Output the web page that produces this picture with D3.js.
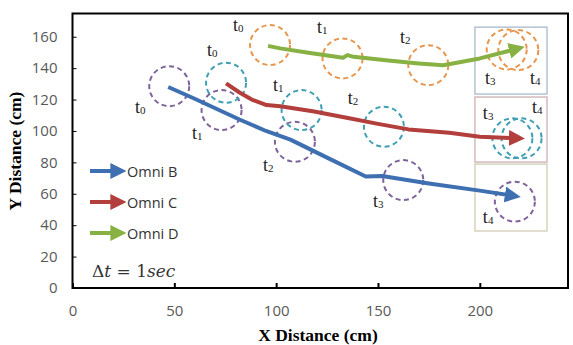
<!DOCTYPE html>
<html>
<head>
<meta charset="utf-8">
<script src="https://cdn.jsdelivr.net/npm/d3@7"></script>
<style>
  body { margin: 0; background: #fff; }
  svg { display: block; }
  .tick text { font-family: "Open Sans", "Liberation Sans", sans-serif; font-size: 15px; fill: #595959; }
</style>
</head>
<body>
<svg id="chart" width="573" height="345"></svg>
<script>
// axis ticks
const xTicks = [0, 50, 100, 150, 200];
const yTicks = [0, 20, 40, 60, 80, 100, 120, 140, 160];

// paths (x cm, y cm)
const omniB = [[47, 128], [60, 120.5], [82, 107.3], [95, 100], [107, 94.5], [125, 83], [144, 71], [152, 71.3], [175, 66.5], [200, 62], [217, 58.6]];
const omniC = [[75.4, 130.3], [82, 124.5], [88, 120], [95.3, 116.5], [102, 115.8], [118, 112.5], [134.6, 108.4], [150, 104.5], [165, 101], [185, 98.8], [200, 96.3], [219, 95.3]];
const omniD = [[96, 154.2], [102, 152.6], [115, 150], [132.8, 146.6], [135, 148.3], [138, 147.2], [155, 144.8], [170, 143], [182, 141.9], [200, 146.2], [219, 152.6]];

// dashed circle centres for t0..t4
const circB = [[47.5, 128.5], [73.2, 113.3], [109.2, 93.1], [162.4, 68.7], [217.2, 55]];
const circC = [[75.4, 130.7], [112.5, 113.3], [152.9, 102.7], [216, 95.3], [220.5, 95.3]];
const circD = [[97, 154.7], [132.6, 146.2], [174.7, 141.9], [213.2, 151.9], [218.9, 151.5]];

// t labels [x, y, index]
const labB = [[30.7, 111.4, 0], [58.7, 94.8, 1], [93.5, 74.5, 2], [147.5, 51.6, 3], [201.5, 41.4, 4]];
const labC = [[66, 147.7, 0], [98.4, 125.4, 1], [135.2, 117.1, 2], [201.5, 107.6, 3], [225.6, 111.4, 4]];
const labD = [[78.8, 163.6, 0], [120, 162.3, 1], [160.8, 156, 2], [202.5, 129.9, 3], [224.6, 129.9, 4]];

// boxes round the t3/t4 area [x0, y0, x1, y1]
const boxes = [
    {box: [197.6, 123.5, 233, 166.1], stroke: "#b3c3d3"},
    {box: [197.6, 80.2, 233, 121.6], stroke: "#d3b9bc"},
    {box: [197.6, 36.3, 233, 78.9], stroke: "#d6d3bd"}
];

const seriesNames = ["Omni B", "Omni C", "Omni D"];

const margins = {top: 13.5, right: 5, bottom: 57, left: 72.5};

function drawCircles(chart, data, x, y, color){
    chart.append("g").selectAll("circle").data(data).enter().append("circle")
        .attr("cx", d => x(d[0]))
        .attr("cy", d => y(d[1]))
        .attr("r", 20)
        .attr("fill", "none")
        .attr("stroke", color)
        .attr("stroke-width", 2)
        .attr("stroke-dasharray", "5,3.5");
}

function drawLabels(chart, data, x, y){
    let t = chart.append("g").selectAll("text").data(data).enter().append("text")
        .attr("x", d => x(d[0]))
        .attr("y", d => y(d[1]))
        .style("font-family", "'Liberation Serif', serif")
        .style("font-size", "18px")
        .style("fill", "#222")
        .text("t");
    t.append("tspan")
        .attr("dy", 1)
        .style("font-size", "11px")
        .text(d => d[2]);
}

function drawPath(chart, data, x, y, color, marker){
    chart.append("path")
        .datum(data)
        .attr("d", d3.line().x(d => x(d[0])).y(d => y(d[1])))
        .attr("fill", "none")
        .attr("stroke", color)
        .attr("stroke-width", 4)
        .attr("stroke-linejoin", "round")
        .attr("marker-end", `url(#${marker})`);
}

function makeChart(){
    let svg = d3.select("#chart");
    let width = 573, height = 345;
    let innerW = width - margins.left - margins.right;
    let innerH = height - margins.top - margins.bottom;

    let x = d3.scaleLinear([0, 243.3], [margins.left, margins.left + innerW]);
    let y = d3.scaleLinear([0, 174.8], [margins.top + innerH, margins.top]);

    let colors = ["#3e6fb0", "#b23f3c", "#88b144"];
    let circColors = ["#7d6399", "#3f9fb3", "#e7954c"];

    let defs = svg.append("defs");
    colors.forEach((c, i) => {
        defs.append("marker")
            .attr("id", "arr" + i)
            .attr("viewBox", "0 0 10 10")
            .attr("refX", 6).attr("refY", 5)
            .attr("markerWidth", 4).attr("markerHeight", 4)
            .attr("markerUnits", "strokeWidth")
            .attr("orient", "auto")
            .append("path")
            .attr("d", "M0,0 L10,5 L0,10 Z")
            .attr("fill", c);
    });

    // boxes
    svg.append("g").selectAll("rect").data(boxes).enter().append("rect")
        .attr("x", d => x(d.box[0]))
        .attr("y", d => y(d.box[3]))
        .attr("width", d => x(d.box[2]) - x(d.box[0]))
        .attr("height", d => y(d.box[1]) - y(d.box[3]))
        .attr("fill", "none")
        .attr("stroke", d => d.stroke)
        .attr("stroke-width", 1.5);

    // axes
    svg.append("g")
        .attr("transform", `translate(0,${margins.top + innerH})`)
        .call(d3.axisBottom(x).tickValues(xTicks).tickSizeInner(-5).tickSizeOuter(0).tickPadding(17))
        .call(g => g.select(".domain").remove())
        .call(g => g.selectAll("line").attr("stroke", "#000").attr("stroke-width", 2));

    svg.append("g")
        .attr("transform", `translate(${margins.left},0)`)
        .call(d3.axisLeft(y).tickValues(yTicks).tickSizeInner(-4).tickSizeOuter(0).tickPadding(15))
        .call(g => g.select(".domain").remove())
        .call(g => g.selectAll("line").attr("stroke", "#000"));

    // frame
    svg.append("rect")
        .attr("x", margins.left)
        .attr("y", margins.top)
        .attr("width", innerW)
        .attr("height", innerH)
        .attr("fill", "none")
        .attr("stroke", "#000")
        .attr("stroke-width", 2);

    drawCircles(svg, circB, x, y, circColors[0]);
    drawCircles(svg, circC, x, y, circColors[1]);
    drawCircles(svg, circD, x, y, circColors[2]);

    drawPath(svg, omniB, x, y, colors[0], "arr0");
    drawPath(svg, omniC, x, y, colors[1], "arr1");
    drawPath(svg, omniD, x, y, colors[2], "arr2");

    drawLabels(svg, labB, x, y);
    drawLabels(svg, labC, x, y);
    drawLabels(svg, labD, x, y);

    // legend
    let leg = svg.append("g").selectAll("g").data(seriesNames).enter().append("g")
        .attr("transform", (d, i) => `translate(90,${171 + i * 31})`);
    leg.append("line")
        .attr("x1", 0).attr("x2", 30)
        .attr("y1", 0).attr("y2", 0)
        .attr("stroke", (d, i) => colors[i])
        .attr("stroke-width", 4)
        .attr("marker-end", (d, i) => `url(#arr${i})`);
    leg.append("text")
        .attr("x", 37).attr("y", 5.5)
        .style("font-family", "'Open Sans', sans-serif")
        .style("font-size", "14.5px")
        .style("fill", "#333")
        .text(d => d);

    let dt = svg.append("text")
        .attr("x", 92).attr("y", 277)
        .style("font-family", "'DejaVu Serif', serif")
        .style("font-size", "17px")
        .style("fill", "#333");
    dt.append("tspan").text("Δ");
    dt.append("tspan").style("font-style", "italic").text("t");
    dt.append("tspan").text(" = 1");
    dt.append("tspan").style("font-style", "italic").text("sec");

    // axis titles
    svg.append("text")
        .attr("x", 318).attr("y", 341)
        .attr("text-anchor", "middle")
        .style("font-family", "'Liberation Serif', serif")
        .style("font-weight", "bold")
        .style("font-size", "17.5px")
        .text("X Distance (cm)");

    svg.append("text")
        .attr("transform", "translate(21,151) rotate(-90)")
        .attr("text-anchor", "middle")
        .style("font-family", "'Liberation Serif', serif")
        .style("font-weight", "bold")
        .style("font-size", "17.5px")
        .text("Y Distance (cm)");
}

makeChart();
</script>
</body>
</html>
